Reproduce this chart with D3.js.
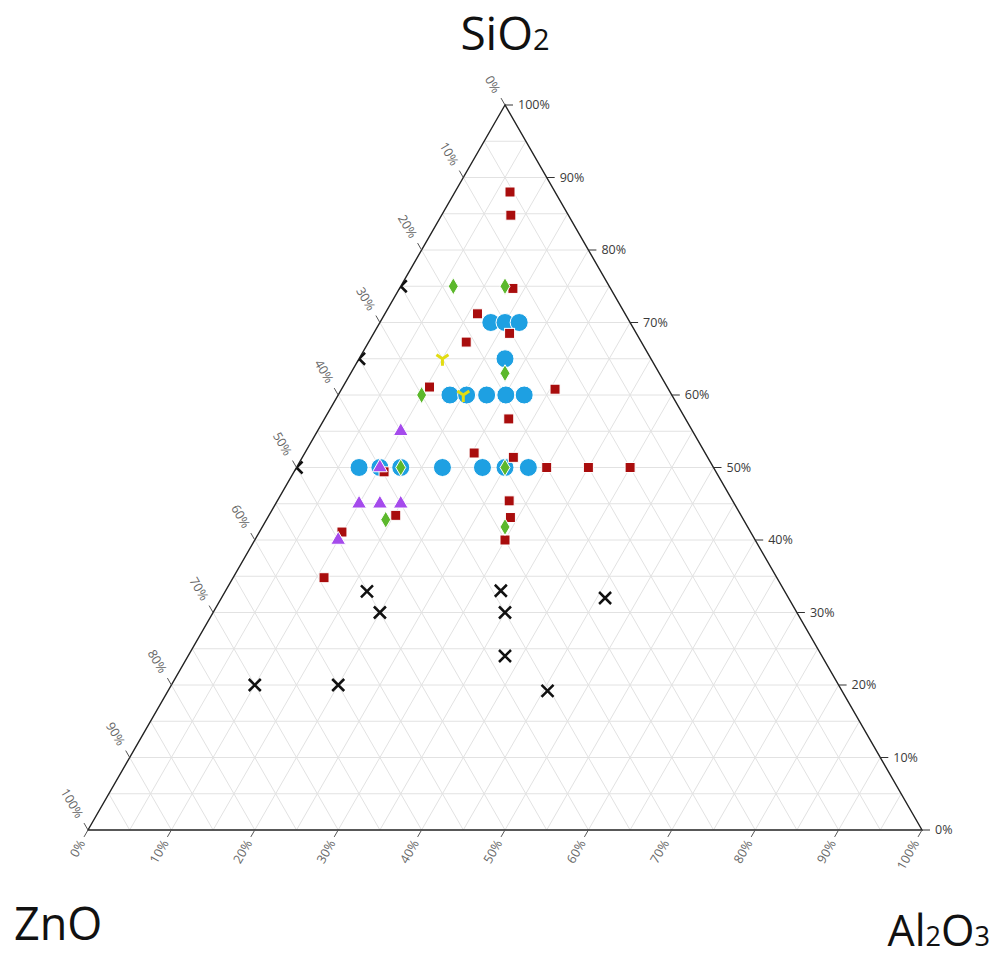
<!DOCTYPE html>
<html lang="en">
<head>
    <meta charset="UTF-8">
    <title>SiO2 - Al2O3 - ZnO ternary</title>
    <script src="https://d3js.org/d3.v7.min.js"></script>
    <style>
        body { margin: 0; background: #fff; }
        svg { display: block; font-family: "Open Sans", "Noto Sans", sans-serif; }
    </style>
</head>
<body>
    <script>
        // each row: [SiO2, Al2O3, ZnO] in %
        const redSquares = [
            [88, 6.6, 5.4], [84.8, 8.3, 6.9], [74.7, 13.6, 11.7], [71.2, 11.1, 17.7],
            [68.5, 16.3, 15.2], [67.3, 11.7, 21], [61.1, 10.4, 28.5], [60.8, 25.6, 13.6],
            [56.7, 22.1, 21.2], [52, 20.3, 27.7], [51.4, 25.3, 23.3], [49.4, 10.8, 39.8],
            [50, 30, 20], [50, 35, 15], [50, 40, 10], [45.4, 27.8, 26.8],
            [43.4, 15.2, 41.4], [43.1, 29.1, 27.8], [40, 30, 30], [41.1, 9.9, 49],
            [34.8, 10.9, 54.3]
        ];
        const blueCircles = [
            [70, 13.3, 16.7], [70, 15, 15], [70, 16.7, 13.3], [65, 17.5, 17.5],
            [60, 13.4, 26.6], [60, 15.4, 24.6], [60, 17.8, 22.2], [60, 20.1, 19.9], [60, 22.3, 17.7],
            [50, 7.5, 42.5], [50, 10, 40], [50, 12.5, 37.5], [50, 17.5, 32.5],
            [50, 22.3, 27.7], [50, 25, 25], [50, 27.8, 22.2]
        ];
        const greenDiamonds = [
            [75, 6.3, 18.7], [75, 12.5, 12.5], [63, 18.5, 18.5], [60, 10, 30],
            [50, 12.5, 37.5], [50, 25, 25], [42.8, 14.3, 42.9], [41.8, 29.1, 29.1]
        ];
        const purpleTriangles = [
            [55, 10, 35], [50, 10, 40], [45, 10, 45], [45, 12.5, 42.5], [45, 15, 40], [40, 10, 50]
        ];
        const yellowWyes = [[65, 10, 25], [60, 15, 25]];
        const blackCrosses = [
            [32.9, 17, 50.1], [30, 20, 50], [33, 33, 34], [30, 35, 35], [32, 46, 22],
            [24, 38, 38], [20, 20, 60], [20, 10, 70], [19.2, 45.5, 35.3],
            [75, 0, 25], [65, 0, 35], [50, 0, 50]
        ];

        const gridSteps = d3.range(5, 100, 5);
        const tickValues = d3.range(0, 101, 10);

        const W = 997, H = 960;
        const svg = d3.select('body').append('svg').attr('width', W).attr('height', H);

        // SiO2 -> vertical, (Al2O3 + SiO2/2) -> horizontal
        const yScale = d3.scaleLinear().domain([0, 100]).range([830, 105]);
        const xScale = d3.scaleLinear().domain([0, 100]).range([88, 922]);
        const px = d => xScale(d[1] + d[0] / 2);
        const py = d => yScale(d[0]);
        const pt = (s, a) => [xScale(a + s / 2), yScale(s)];

        const corners = [pt(100, 0), pt(0, 0), pt(0, 100)];
        const triPath = 'M' + corners.join('L') + 'Z';
        svg.append('defs').append('clipPath').attr('id', 'tri')
            .append('path').attr('d', triPath);

        // grid
        const grid = svg.append('g').attr('stroke', '#e2e2e2').attr('stroke-width', 1);
        gridSteps.forEach(v => {
            // constant SiO2
            let p1 = pt(v, 0), p2 = pt(v, 100 - v);
            grid.append('line').attr('x1', p1[0]).attr('y1', p1[1]).attr('x2', p2[0]).attr('y2', p2[1]);
            // constant Al2O3
            p1 = pt(0, v); p2 = pt(100 - v, v);
            grid.append('line').attr('x1', p1[0]).attr('y1', p1[1]).attr('x2', p2[0]).attr('y2', p2[1]);
            // constant ZnO
            p1 = pt(0, 100 - v); p2 = pt(100 - v, 0);
            grid.append('line').attr('x1', p1[0]).attr('y1', p1[1]).attr('x2', p2[0]).attr('y2', p2[1]);
        });

        // outline
        svg.append('path').attr('d', triPath)
            .attr('fill', 'none').attr('stroke', '#222').attr('stroke-width', 1.4);

        // ticks + labels
        const tk = 8, c60 = 0.5, s60 = Math.sqrt(3) / 2;
        const axes = svg.append('g').attr('font-size', 12.5).attr('fill', '#666');

        tickValues.forEach(v => {
            // right axis: SiO2
            let p = pt(v, 100 - v);
            axes.append('line').attr('x1', p[0]).attr('y1', p[1]).attr('x2', p[0] + tk).attr('y2', p[1])
                .attr('stroke', '#333');
            axes.append('text').attr('x', p[0] + tk + 5).attr('y', p[1]).attr('dy', '0.35em')
                .attr('fill', '#3a3a3a').text(v + '%');

            // bottom axis: Al2O3
            p = pt(0, v);
            let e = [p[0] - tk * c60, p[1] + tk * s60];
            axes.append('line').attr('x1', p[0]).attr('y1', p[1]).attr('x2', e[0]).attr('y2', e[1])
                .attr('stroke', '#555');
            let t = [e[0] - 2, e[1] + 4];
            axes.append('text').attr('text-anchor', 'end').attr('dy', '0.35em')
                .attr('transform', `translate(${t[0]},${t[1]}) rotate(-60)`).text(v + '%');

            // left axis: ZnO
            p = pt(100 - v, 0);
            e = [p[0] - tk * c60, p[1] - tk * s60];
            axes.append('line').attr('x1', p[0]).attr('y1', p[1]).attr('x2', e[0]).attr('y2', e[1])
                .attr('stroke', '#555');
            t = [e[0] - 4, e[1] - 6];
            axes.append('text').attr('text-anchor', 'end').attr('dy', '0.35em')
                .attr('transform', `translate(${t[0]},${t[1]}) rotate(60)`).text(v + '%');
        });

        // markers, clipped to the triangle
        const marks = svg.append('g').attr('clip-path', 'url(#tri)');
        const place = d => `translate(${px(d)},${py(d)})`;

        marks.selectAll('.blue').data(blueCircles).enter().append('circle')
            .attr('cx', px).attr('cy', py).attr('r', 9)
            .attr('fill', '#1ea0e2').attr('stroke', '#fff').attr('stroke-width', 1);

        marks.selectAll('.red').data(redSquares).enter().append('rect')
            .attr('x', d => px(d) - 5).attr('y', d => py(d) - 5).attr('width', 10).attr('height', 10)
            .attr('fill', '#a90d0d').attr('stroke', '#fff').attr('stroke-width', 1);

        marks.selectAll('.green').data(greenDiamonds).enter().append('path')
            .attr('d', 'M0,-8.5L5,0L0,8.5L-5,0Z').attr('transform', place)
            .attr('fill', '#5cb82c').attr('stroke', '#fff').attr('stroke-width', 1);

        marks.selectAll('.purple').data(purpleTriangles).enter().append('path')
            .attr('d', d3.symbol(d3.symbolTriangle, 95)).attr('transform', place)
            .attr('fill', '#a54bec').attr('stroke', '#fff').attr('stroke-width', 1);

        marks.selectAll('.yellow').data(yellowWyes).enter().append('path')
            .attr('d', 'M0,0L0,7M0,0L-6,-4M0,0L6,-4').attr('transform', place)
            .attr('fill', 'none').attr('stroke', '#e2dc12').attr('stroke-width', 3);

        marks.selectAll('.cross').data(blackCrosses).enter().append('path')
            .attr('d', 'M-6,-6L6,6M6,-6L-6,6').attr('transform', place)
            .attr('fill', 'none').attr('stroke', '#111').attr('stroke-width', 2.5);

        // component titles
        const title = (x, y, anchor, size, parts) => {
            const t = svg.append('text').attr('x', x).attr('y', y).attr('text-anchor', anchor)
                .attr('font-size', size).attr('fill', '#111');
            parts.forEach(p => t.append('tspan').attr('font-size', p[1] ? size * 0.63 : size).text(p[0]));
        };
        title(505, 50, 'middle', 46, [['SiO', 0], ['2', 1]]);
        title(14, 940, 'start', 45, [['ZnO', 0]]);
        title(990, 946, 'end', 43, [['Al', 0], ['2', 1], ['O', 0], ['3', 1]]);
    </script>
</body>
</html>
